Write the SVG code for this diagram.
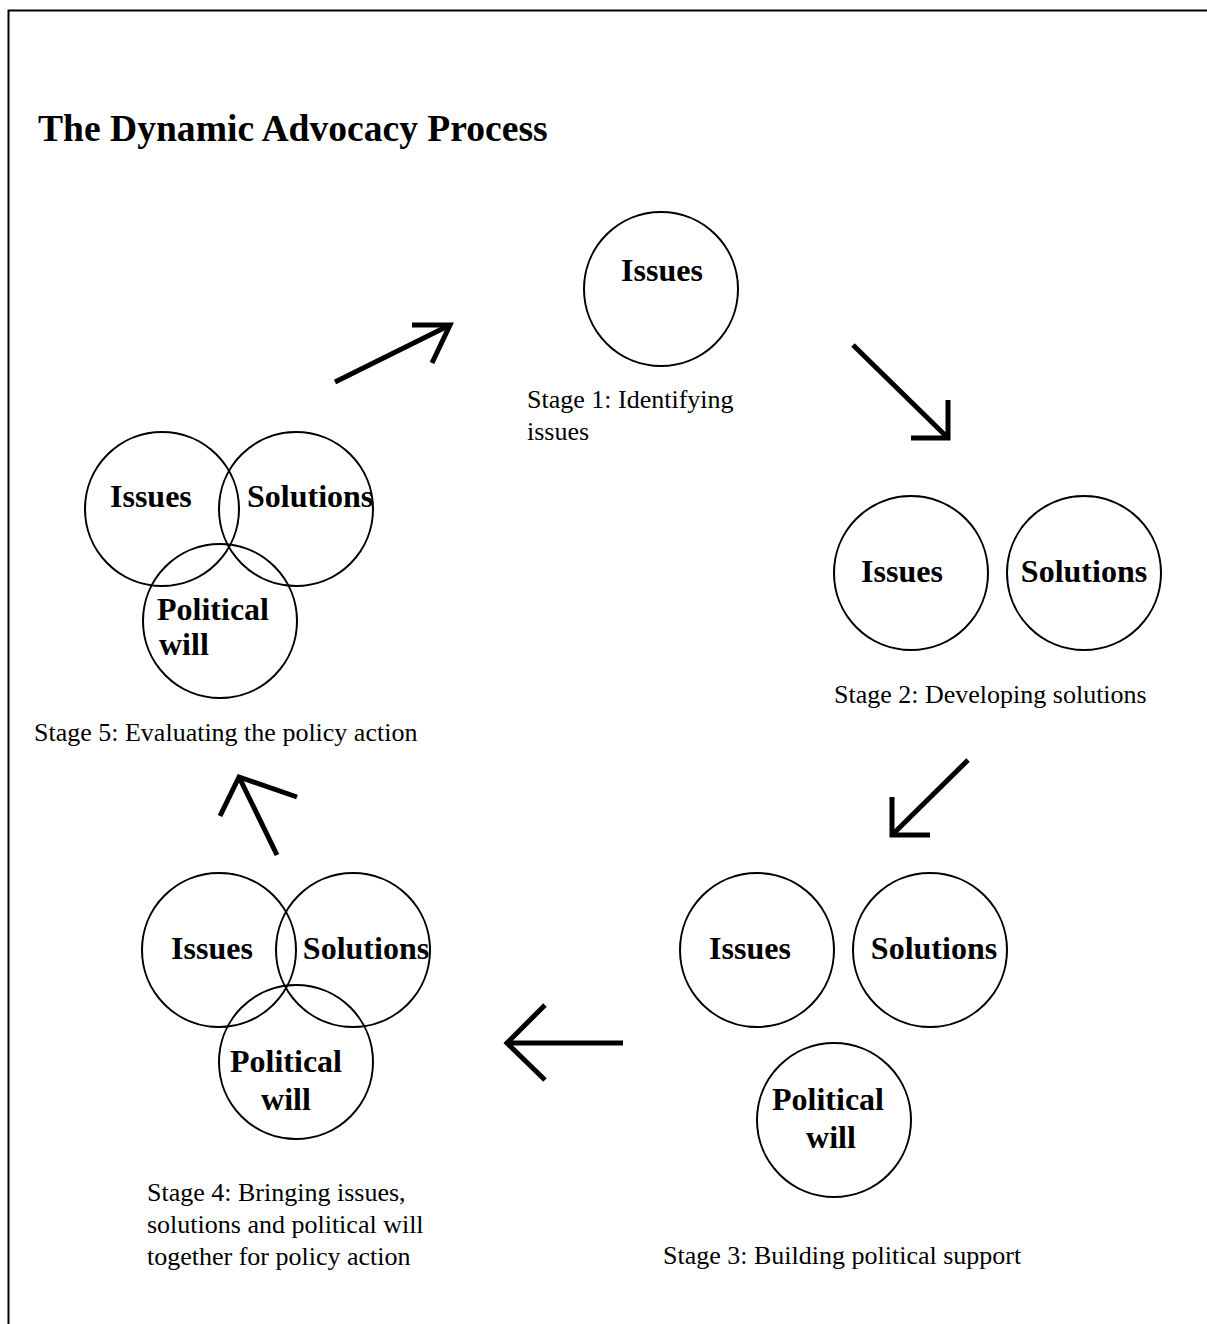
<svg xmlns="http://www.w3.org/2000/svg" width="1207" height="1324" viewBox="0 0 1207 1324">
<style>
.c{fill:none;stroke:#000;stroke-width:2}
.b{font-family:"Liberation Serif","Times New Roman",serif;font-weight:bold;font-size:32px;fill:#000}
.m{text-anchor:middle}
.l{font-family:"Liberation Serif","Times New Roman",serif;font-size:26px;fill:#000}
.t{font-family:"Liberation Serif","Times New Roman",serif;font-weight:bold;font-size:37.6px;fill:#000}
.a{fill:none;stroke:#000;stroke-width:5;stroke-linejoin:miter;stroke-linecap:butt}
</style>
<rect width="1207" height="1324" fill="#fff"/>
<path d="M8.5,1324 V10.5 H1207" fill="none" stroke="#000" stroke-width="2"/>
<text class="t" x="38" y="141">The Dynamic Advocacy Process</text>
<g id="stage1">
<circle class="c" cx="661" cy="289" r="77"/>
<text class="b m" x="662" y="281">Issues</text>
<text class="l" x="527" y="408">Stage 1: Identifying</text>
<text class="l" x="527" y="440">issues</text>
</g>
<g id="stage2">
<circle class="c" cx="911" cy="573" r="77"/>
<circle class="c" cx="1084" cy="573" r="77"/>
<text class="b m" x="902" y="582">Issues</text>
<text class="b m" x="1084" y="582">Solutions</text>
<text class="l" x="834" y="703">Stage 2: Developing solutions</text>
</g>
<g id="stage3">
<circle class="c" cx="757" cy="950" r="77"/>
<circle class="c" cx="930" cy="950" r="77"/>
<circle class="c" cx="834" cy="1120" r="77"/>
<text class="b m" x="750" y="959">Issues</text>
<text class="b m" x="934" y="959">Solutions</text>
<text class="b m" x="828" y="1110">Political</text>
<text class="b m" x="831" y="1148">will</text>
<text class="l" x="663" y="1264">Stage 3: Building political support</text>
</g>
<g id="stage4">
<circle class="c" cx="219" cy="950" r="77"/>
<circle class="c" cx="353" cy="950" r="77"/>
<circle class="c" cx="296" cy="1062" r="77"/>
<text class="b m" x="212" y="959">Issues</text>
<text class="b m" x="366" y="959">Solutions</text>
<text class="b m" x="286" y="1072">Political</text>
<text class="b m" x="286" y="1110">will</text>
<text class="l" x="147" y="1201">Stage 4: Bringing issues,</text>
<text class="l" x="147" y="1233">solutions and political will</text>
<text class="l" x="147" y="1265">together for policy action</text>
</g>
<g id="stage5">
<circle class="c" cx="162" cy="509" r="77"/>
<circle class="c" cx="296" cy="509" r="77"/>
<circle class="c" cx="220" cy="621" r="77"/>
<text class="b" x="110" y="507">Issues</text>
<text class="b" x="247" y="507">Solutions</text>
<text class="b" x="157" y="620">Political</text>
<text class="b" x="159" y="655">will</text>
<text class="l" x="34" y="741">Stage 5: Evaluating the policy action</text>
</g>
<g id="connectors">
<path class="a" d="M335,382 L450,325"/>
<path class="a" d="M412,325 H450 L432,363"/>
<path class="a" d="M853,345 L948,438"/>
<path class="a" d="M948,400 V438 H911"/>
<path class="a" d="M968,760 L892,835"/>
<path class="a" d="M892,797 V835 H930"/>
<path class="a" d="M623,1043 H507"/>
<path class="a" d="M545,1005 L507,1043 L545,1080"/>
<path class="a" d="M277,855 L239,777"/>
<path class="a" d="M297,797 L239,777 L220,816"/>
</g>
</svg>
